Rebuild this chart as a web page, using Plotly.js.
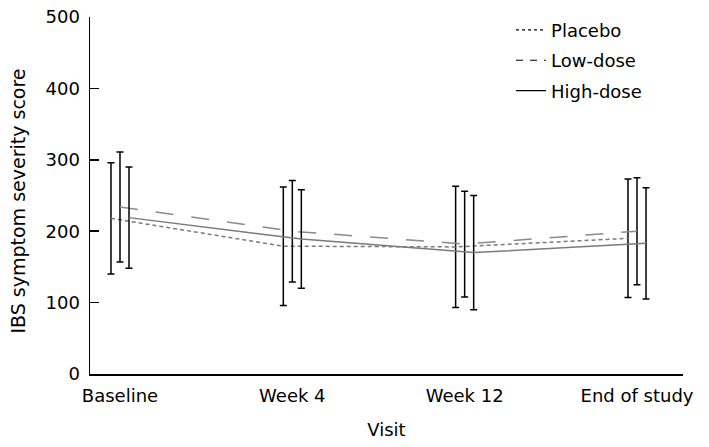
<!DOCTYPE html>
<html>
<head>
<meta charset="utf-8">
<script src="https://cdn.plot.ly/plotly-3.0.1.min.js"></script>
<style>html,body{margin:0;padding:0;background:#fff;}#chart{width:709px;height:447px;}</style>
</head>
<body>
<div id="chart"></div>
<script>
var visits = ["Baseline", "Week 4", "Week 12", "End of study"];
var seriesNames = ["Placebo", "Low-dose", "High-dose"];
var placeboMean = [218, 179, 178, 190];
var placeboSD = [78, 83, 85, 83];
var lowMean = [234, 200, 182, 200];
var lowSD = [77, 71, 74, 75];
var highMean = [219, 189, 170, 183];
var highSD = [71, 69, 80, 78];

var FONT = "DejaVu Sans, Verdana, sans-serif";
var means = [placeboMean, lowMean, highMean];
var sds = [placeboSD, lowSD, highSD];
var lineColors = ["#7a7a7a", "#8a8a8a", "#7a7a7a"];
var lineDash = ["4px,3px", "18px,18px", "solid"];
var legendDash = ["3px,3px", "7px,7px", "solid"];
var groups = ["p", "l", "h"];

var traces = [];
for (var i = 0; i < 3; i++) {
  traces.push({
    type: "scatter", mode: "lines",
    x: visits, y: means[i],
    name: seriesNames[i], showlegend: false,
    offsetgroup: groups[i],
    line: {color: lineColors[i], width: 1.5, dash: lineDash[i]},
    error_y: {type: "data", array: sds[i], visible: true, color: "#000", thickness: 1.5, width: 3.5}
  });
}
for (var j = 0; j < 3; j++) {
  traces.push({
    type: "scatter", mode: "lines",
    x: [visits[0]], y: [null],
    name: seriesNames[j], showlegend: true,
    offsetgroup: groups[j], legendgroup: groups[j],
    line: {color: "#000", width: 1.2, dash: legendDash[j]}
  });
}

var layout = {
  width: 709, height: 447,
  margin: {l: 90, r: 26, t: 17, b: 73, autoexpand: false},
  paper_bgcolor: "#fff", plot_bgcolor: "#fff",
  font: {family: FONT, size: 18, color: "#000"},
  scattermode: "group",
  scattergap: 0.843,
  showlegend: true,
  legend: {
    x: 0.71, y: 1.015, xanchor: "left", yanchor: "top",
    bgcolor: "rgba(0,0,0,0)", borderwidth: 0,
    tracegroupgap: 4, itemwidth: 30,
    font: {family: FONT, size: 18, color: "#000"}
  },
  xaxis: {
    type: "category",
    range: [-0.174, 3.267],
    showline: true, linecolor: "#000", linewidth: 1.5,
    ticks: "", showgrid: false, zeroline: false,
    ticklabelstandoff: 5,
    title: {text: "Visit", font: {family: FONT, size: 18, color: "#000"}, standoff: 18}
  },
  yaxis: {
    range: [0, 500],
    tickvals: [0, 100, 200, 300, 400, 500],
    showline: true, linecolor: "#000", linewidth: 1.5,
    ticks: "inside", ticklen: 9, tickwidth: 1.5, tickcolor: "#000",
    showgrid: false, zeroline: false,
    ticklabelstandoff: 5
  },
  annotations: [{
    text: "IBS symptom severity score", textangle: -90,
    xref: "paper", yref: "paper", x: -0.1214, y: 0.483,
    xanchor: "center", yanchor: "middle", showarrow: false,
    font: {family: FONT, size: 19, color: "#000"}
  }]
};

Plotly.newPlot("chart", traces, layout, {displayModeBar: false, staticPlot: true});
</script>
</body>
</html>
